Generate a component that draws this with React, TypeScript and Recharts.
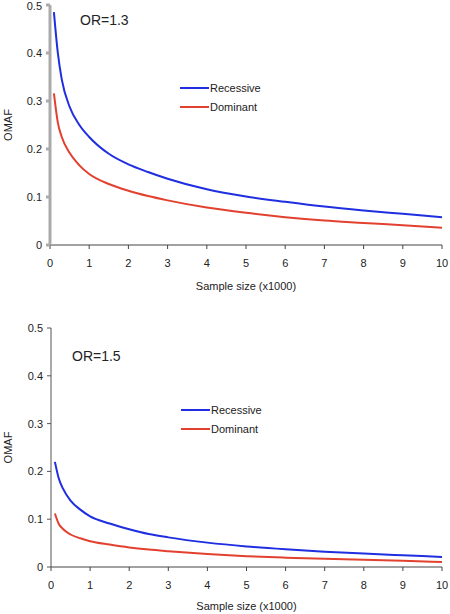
import { Line, LineChart, XAxis, YAxis } from "recharts"

const sampleSize = [0.1, 0.2, 0.3, 0.5, 0.75, 1, 1.5, 2, 2.5, 3, 4, 5, 6, 7, 8, 9, 10]

// OR = 1.3
const recessive13 = [0.485, 0.4, 0.345, 0.288, 0.25, 0.225, 0.19, 0.168, 0.152, 0.138, 0.116, 0.101, 0.09, 0.08, 0.072, 0.065, 0.058]
const dominant13 = [0.316, 0.255, 0.225, 0.192, 0.166, 0.148, 0.127, 0.113, 0.102, 0.093, 0.078, 0.067, 0.058, 0.051, 0.046, 0.041, 0.036]

// OR = 1.5
const recessive15 = [0.22, 0.185, 0.165, 0.139, 0.12, 0.106, 0.091, 0.079, 0.069, 0.062, 0.051, 0.043, 0.037, 0.032, 0.028, 0.0245, 0.021]
const dominant15 = [0.112, 0.09, 0.08, 0.068, 0.06, 0.054, 0.047, 0.041, 0.0365, 0.033, 0.027, 0.0225, 0.0195, 0.017, 0.015, 0.013, 0.0105]

const xTicks = [0, 1, 2, 3, 4, 5, 6, 7, 8, 9, 10]
const yTicks = [0, 0.1, 0.2, 0.3, 0.4, 0.5]

const series = [
    { key: "recessive", name: "Recessive", color: "#1f2ee0" },
    { key: "dominant", name: "Dominant", color: "#e2412f" },
]

const font = "Liberation Sans, Arial, sans-serif"

const toRows = (rec: number[], dom: number[]) =>
    sampleSize.map((x, i) => ({ x, recessive: rec[i], dominant: dom[i] }))

type PanelProps = {
    data: { x: number; recessive: number; dominant: number }[]
    height: number
    top: number
    bottom: number
    left: number
    xLabelOffset: number
    title: string
    titlePos: { left: number; top: number }
    legendPos: { left: number; top: number }
    yAxisColor: string
    yAxisWidth: number
}

function Panel(props: PanelProps) {
    const tick = { fontFamily: font, fontSize: 11, fill: "#222" }
    return (
        <div style={{ position: "relative", width: 450, height: props.height }}>
            <LineChart
                width={450}
                height={props.height}
                data={props.data}
                margin={{ top: props.top, right: 8, bottom: 0, left: 0 }}
            >
                <XAxis
                    dataKey="x"
                    type="number"
                    domain={[0, 10]}
                    ticks={xTicks}
                    tick={tick}
                    tickSize={4}
                    tickMargin={10}
                    stroke="#444"
                    height={props.bottom}
                    label={{ value: "Sample size (x1000)", position: "insideBottom", offset: props.xLabelOffset, style: { fontFamily: font, fontSize: 11, fill: "#222" } }}
                />
                <YAxis
                    type="number"
                    domain={[0, 0.5]}
                    ticks={yTicks}
                    width={props.left}
                    tick={tick}
                    tickSize={4}
                    tickMargin={4}
                    stroke={props.yAxisColor}
                    strokeWidth={props.yAxisWidth}
                    label={{ value: "OMAF", angle: -90, position: "insideLeft", offset: 8, style: { fontFamily: font, fontSize: 11, fill: "#222", textAnchor: "middle" } }}
                />
                {series.map((s) => (
                    <Line
                        key={s.key}
                        type="monotone"
                        dataKey={s.key}
                        name={s.name}
                        stroke={s.color}
                        strokeWidth={2}
                        dot={false}
                        isAnimationActive={false}
                    />
                ))}
            </LineChart>
            <div
                style={{
                    position: "absolute",
                    left: props.titlePos.left,
                    top: props.titlePos.top,
                    fontFamily: font,
                    fontSize: 14,
                    color: "#222",
                    lineHeight: "16px",
                }}
            >
                {props.title}
            </div>
            <div
                style={{
                    position: "absolute",
                    left: props.legendPos.left,
                    top: props.legendPos.top,
                    fontFamily: font,
                    fontSize: 11,
                    color: "#222",
                }}
            >
                {series.map((s) => (
                    <div key={s.key} style={{ display: "flex", alignItems: "center", height: 18.5 }}>
                        <span style={{ display: "inline-block", width: 29, height: 2, background: s.color, marginRight: 1 }} />
                        {s.name}
                    </div>
                ))}
            </div>
        </div>
    )
}

export default function App() {
    return (
        <div style={{ position: "absolute", left: 0, top: 0, width: 450, height: 614, background: "#fff" }}>
            <Panel
                data={toRows(recessive13, dominant13)}
                height={300}
                top={5}
                bottom={55}
                left={50}
                xLabelOffset={10}
                title="OR=1.3"
                titlePos={{ left: 80, top: 12 }}
                legendPos={{ left: 180, top: 79 }}
                yAxisColor="#aaa"
                yAxisWidth={3}
            />
            <Panel
                data={toRows(recessive15, dominant15)}
                height={314}
                top={28}
                bottom={47}
                left={51}
                xLabelOffset={4}
                title="OR=1.5"
                titlePos={{ left: 72, top: 48 }}
                legendPos={{ left: 181, top: 101 }}
                yAxisColor="#555"
                yAxisWidth={1}
            />
        </div>
    )
}
